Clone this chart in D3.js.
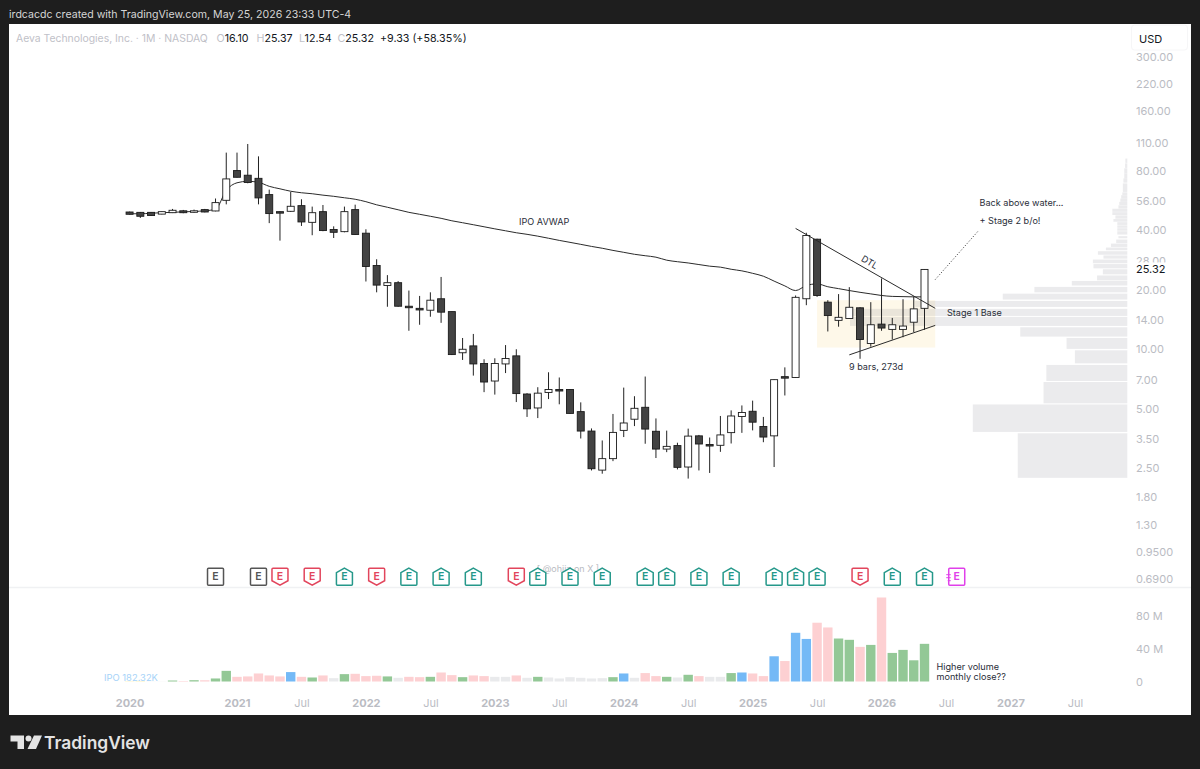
<!DOCTYPE html>
<html>
<head>
<meta charset="utf-8">
<title>AEVA monthly</title>
<script src="https://cdn.jsdelivr.net/npm/d3@7"></script>
<style>
  html, body { margin: 0; padding: 0; background: #1e1e1e; }
  svg { display: block; }
  text { font-family: Inter, "Noto Sans", sans-serif; }
  .axis path, .axis line { display: none; }
</style>
</head>
<body>
<svg id="chart" width="1200" height="769"></svg>
<script>
// Monthly bars, index 0 = Jan 2021, first bar Mar 2020, last bar May 2026
const barIdx = d3.range(-10, 65);

const open = [49.4, 49.2, 49.2, 48.2, 49.0, 50.1, 49.3, 50.8, 50.0, 56.6,
  80, 75.8, 73.1, 60.5, 49.6, 49.8, 53.2, 43.8, 49.6, 40.3, 39.3, 50.8,
  38.6, 26.5, 21.0, 21.7, 16.5, 16.1, 15.75, 18.0, 15.5, 9.6, 10.4, 8.47,
  6.91, 8.43, 9.26, 5.94, 5.05, 6.05, 6.26, 6.26, 4.84, 3.86, 2.45, 2.8,
  3.89, 4.43, 5.09, 3.85, 3.13, 3.26, 2.54, 3.65, 3.30, 3.27, 3.79, 4.57,
  4.86, 4.07, 3.65, 7.27, 7.2, 18.0, 36, 17.3, 14.0, 14.3, 16.2, 10.7,
  13.4, 12.6, 12.6, 13.7, 16.10];
const high = [49.6, 49.4, 49.4, 49.7, 51.2, 50.6, 50.8, 51.2, 57.8, 98.6,
  98.6, 109, 94.4, 64.1, 49.8, 62.4, 57.3, 52.6, 53.6, 41.8, 52.6, 53.8,
  40.4, 28.5, 23.7, 22.1, 19.8, 18.6, 19.4, 23.2, 15.5, 11.4, 11.95, 8.9,
  9.0, 10.5, 10.0, 6.0, 6.43, 7.65, 7.2, 6.28, 5.39, 3.98, 3.46, 4.71,
  6.4, 5.79, 7.28, 4.47, 3.88, 3.37, 3.97, 3.69, 3.58, 4.6, 4.91, 5.2,
  5.5, 4.55, 7.05, 8.1, 18.7, 38.8, 36.2, 17.7, 19.0, 20.6, 16.3, 17.3,
  22.8, 14.4, 17.9, 18.5, 25.37];
const low = [48.0, 46.1, 47.2, 48.1, 48.8, 48.7, 49.0, 49.2, 49.8, 54.0,
  73.8, 69, 54.0, 43.4, 35.4, 49.4, 42, 37.7, 39.5, 36.5, 39.0, 37.9,
  22.0, 19.4, 16.4, 16.4, 12.4, 13.3, 14.6, 13.6, 9.35, 8.83, 7.36, 6.07,
  5.9, 7.58, 5.41, 4.55, 4.49, 5.6, 5.27, 4.72, 3.54, 2.44, 2.35, 2.72,
  3.6, 4.09, 3.33, 2.82, 3.02, 2.47, 2.22, 2.44, 2.37, 3.03, 3.34, 3.78,
  3.89, 3.39, 2.54, 5.84, 7.17, 16.7, 18.4, 12.3, 13.0, 14.3, 8.95, 10.3,
  12.4, 11.2, 11.5, 12.2, 12.54];
const close = [48.1, 47.0, 47.4, 49.6, 50.4, 49.0, 50.1, 49.4, 55.1, 72.6,
  74, 69.6, 58.2, 48.5, 49.2, 52.8, 44.0, 49.0, 39.8, 39.0, 49.6, 38.0,
  26.2, 21.1, 21.7, 16.5, 16.4, 15.8, 17.7, 15.4, 9.4, 10.0, 8.43, 6.83,
  8.47, 8.98, 5.97, 5.0, 6.0, 6.26, 6.2, 4.74, 3.86, 2.49, 2.8, 3.8,
  4.24, 5.03, 3.95, 3.13, 3.23, 2.53, 3.64, 3.32, 3.25, 3.69, 4.6, 4.79,
  4.28, 3.6, 7.02, 7.15, 18.3, 37.6, 18.7, 14.8, 14.5, 16.3, 11.2, 13.3,
  12.8, 13.3, 13.1, 16.0, 25.32];

// IPO anchored VWAP, one value per bar
const avwap = [48.4, 48.4, 48.7, 49.0, 49.2, 49.5, 49.7, 50.1, 51.0, 63.6,
  69.4, 70.6, 69.8, 66.6, 64.7, 62.9, 61.8, 61.1, 60.1, 59.3, 58.3, 57.3,
  55.7, 53.7, 52.2, 50.7, 49.2, 48.1, 47.0, 45.9, 44.6, 43.6, 42.6, 41.6,
  40.6, 39.7, 38.8, 38.1, 37.3, 36.4, 35.5, 34.7, 33.9, 33.1, 32.4, 31.6,
  30.9, 30.2, 29.7, 29.2, 28.2, 27.7, 27.3, 26.8, 26.3, 26.0, 25.37, 24.9,
  24.2, 23.4, 22.1, 20.9, 19.8, 21.0, 21.4, 20.7, 20.25, 19.8, 19.4, 19.05,
  18.7, 18.5, 18.45, 18.4, 18.4];

// Volume in millions, and which colour class the bar falls in
const volume = [0.4, 0.5, 0.2, 0.2, 1.2, 0.6, 1.6, 1.5, 3.7, 13,
  5.7, 6.2, 9.8, 7.4, 6.2, 11.5, 5.7, 4.9, 7.4, 4.1, 9, 9.4,
  6.6, 7, 6.2, 4.5, 5.7, 5.3, 5.7, 11, 7.8, 5.3, 7.4, 6.6,
  5.7, 5.7, 7.4, 4.5, 5.7, 4.9, 3.7, 5.3, 4.5, 3.7, 4.1, 5.3,
  9.8, 4.5, 10.3, 6.6, 5.7, 4.9, 8.2, 6.6, 5.7, 5.7, 10.3, 11,
  9.8, 6.6, 30.8, 25, 59.5, 52, 71.8, 66, 52.5, 50.9, 42.3, 44.7,
  102.6, 34.9, 38.6, 25.9, 46];
const volumeClass = ['y', 'y', 'n', 'n', 'g', 'r', 'g', 'r', 'g', 'g',
  'r', 'r', 'r', 'r', 'r', 'b', 'r', 'g', 'r', 'n', 'g', 'r',
  'r', 'r', 'g', 'n', 'r', 'r', 'g', 'r', 'r', 'g', 'r', 'r',
  'n', 'n', 'r', 'n', 'g', 'n', 'n', 'n', 'n', 'n', 'n', 'g',
  'b', 'n', 'r', 'r', 'g', 'n', 'g', 'r', 'n', 'n', 'g', 'b',
  'r', 'r', 'b', 'r', 'b', 'b', 'r', 'r', 'g', 'g', 'r', 'g',
  'r', 'g', 'g', 'g', 'g'];

// Visible range volume profile: price band and share of the longest row (%)
const vpLow = [2.24, 3.82, 5.33, 6.91, 8.49, 10.04, 11.59, 13.12, 14.74, 16.36,
  17.83, 19.4, 21.0, 22.3, 23.9, 25.65, 27.2, 28.7, 30.05, 31.65, 32.9,
  34.4, 36.4, 38.0, 39.7, 41.1, 42.5, 44.1, 45.7, 47.7, 49.5, 51.5, 53.6,
  55.7, 57.9, 60.2, 62.4, 69.5, 73.2, 77.8, 82.5, 87.5];
const vpHigh = [3.76, 5.26, 6.83, 8.33, 9.88, 11.41, 12.92, 14.57, 16.0, 17.55,
  19.1, 20.65, 22.15, 23.6, 25.37, 26.95, 28.4, 29.8, 31.3, 32.65, 34.2,
  35.85, 37.3, 39.5, 40.9, 42.3, 43.9, 45.5, 47.5, 49.3, 51.3, 53.4, 55.6,
  57.8, 60.1, 62.1, 68.9, 73.1, 77.6, 82.2, 87, 92];
const vpShare = [39.5, 55.7, 30.2, 29.2, 18.9, 21.9, 38.6, 100, 100, 76.5,
  44.9, 33.5, 20, 10.9, 8.8, 12.2, 12.4, 8.6, 10.6, 7.7, 5.9,
  4, 3.2, 3.6, 3.6, 3.6, 3.6, 5, 4.3, 5.4, 5.4, 3.2, 2.9,
  2.5, 2.2, 1.8, 1.6, 1.4, 1.1, 1.1, 0.8, 0.7];

// Earnings markers
const earningsIdx = [-2, 2, 4, 7, 10, 13, 16, 19, 22, 26, 28, 31, 34, 38, 40, 43, 46, 50, 52, 54, 58, 61, 64, 67];
const earningsKind = ['none', 'none', 'miss', 'miss', 'beat', 'miss', 'beat', 'beat', 'beat', 'miss', 'beat', 'beat',
  'beat', 'beat', 'beat', 'beat', 'beat', 'beat', 'beat', 'beat', 'miss', 'beat', 'beat', 'next'];

// Axis ticks
const priceTicks = [300, 220, 160, 110, 80, 56, 40, 28, 20, 14, 10, 7, 5, 3.5, 2.5, 1.8, 1.3, 0.95, 0.69];
const volumeTicks = [0, 40, 80];
const timeTickIdx = [-10, 0, 6, 12, 18, 24, 30, 36, 42, 48, 54, 60, 66, 72, 78];
const timeTickLabels = ['2020', '2021', 'Jul', '2022', 'Jul', '2023', 'Jul', '2024', 'Jul', '2025', 'Jul', '2026', 'Jul', '2027', 'Jul'];

// Drawn lines: [bar index, price]
const dtlLine = [[52, 40.8], [65, 16.1]];
const supportLine = [[57, 9.37], [65, 13.2]];
const noteLine = [[65, 22.5], [69, 39.6]];
const baseBox = { from: 54, to: 65, low: 10.2, high: 17.7 };

const lastPrice = 25.32;

const colors = {
  bg: '#1e1e1e', axis: '#babcc3', ink: '#131722', note: '#2a2e39', body: '#434343',
  g: '#93c896', r: '#fdd0d2', b: '#74b9f6', n: '#e9eaec', y: '#fff0a8'
};
const earningsColors = { none: '#555555', miss: '#e2455c', beat: '#25988a', next: '#e040ea' };

// Scales
const x = d3.scaleLinear().domain([0, 64]).range([237, 924.5]);
const y = d3.scaleLog().domain([0.69, 300]).range([579, 57]);
const yVol = d3.scaleLinear().domain([0, 80]).range([681.5, 616]);
const xVp = d3.scaleLinear().domain([0, 100]).range([1127.3, 850]);

const svg = d3.select('#chart');

// Panel
svg.append('rect').attr('x', 9).attr('y', 24).attr('width', 1182).attr('height', 691).attr('fill', '#ffffff');
svg.append('line').attr('x1', 9).attr('x2', 1191).attr('y1', 587.5).attr('y2', 587.5)
  .attr('stroke', '#f0f1f3').attr('stroke-width', 1.5);

svg.append('text').attr('x', 9).attr('y', 18).attr('fill', '#d6d6d6')
  .attr('font-size', 10.6).text('irdcacdc created with TradingView.com, May 25, 2026 23:33 UTC-4');

// Legend line
const legend = svg.append('text').attr('y', 41.5).attr('font-size', 10.7);
legend.append('tspan').attr('x', 16).attr('fill', '#bfc1c8').attr('font-size', 10.4).text('Aeva Technologies, Inc. · 1M · NASDAQ');
[['O', '16.10', 216.5], ['H', '25.37', 256.5], ['L', '12.54', 299], ['C', '25.32', 337.5]].forEach(d => {
  legend.append('tspan').attr('x', d[2]).attr('fill', '#bfc1c8').text(d[0]);
  legend.append('tspan').attr('fill', colors.ink).text(d[1]);
});
legend.append('tspan').attr('x', 380).attr('fill', colors.ink).text('+9.33 (+58.35%)');

// Base box and volume profile
svg.append('rect')
  .attr('x', x(baseBox.from)).attr('width', x(baseBox.to) - x(baseBox.from))
  .attr('y', y(baseBox.high)).attr('height', y(baseBox.low) - y(baseBox.high))
  .attr('fill', '#fef8e9');

svg.append('g').selectAll('rect')
  .data(vpShare)
  .enter().append('rect')
  .attr('x', d => xVp(d))
  .attr('width', d => xVp(0) - xVp(d))
  .attr('y', (d, i) => y(vpHigh[i]))
  .attr('height', (d, i) => y(vpLow[i]) - y(vpHigh[i]))
  .attr('fill', '#787b86')
  .attr('opacity', 0.15);

// AVWAP
svg.append('path')
  .attr('d', d3.line().x((d, i) => x(barIdx[i])).y(d => y(d)).curve(d3.curveMonotoneX)(avwap))
  .attr('fill', 'none').attr('stroke', '#2b2b2b').attr('stroke-width', 1);

// Candles
const candles = svg.append('g').selectAll('g')
  .data(barIdx)
  .enter().append('g');

candles.append('line')
  .attr('x1', d => x(d)).attr('x2', d => x(d))
  .attr('y1', (d, i) => y(high[i])).attr('y2', (d, i) => y(low[i]))
  .attr('stroke', '#222222').attr('stroke-width', 1);

candles.append('rect')
  .attr('x', d => x(d) - 3.5).attr('width', 7)
  .attr('y', (d, i) => y(Math.max(open[i], close[i])))
  .attr('height', (d, i) => Math.max(1.5, Math.abs(y(open[i]) - y(close[i]))))
  .attr('fill', (d, i) => close[i] >= open[i] ? '#ffffff' : colors.body)
  .attr('stroke', '#1a1a1a').attr('stroke-width', 0.9);

// Trend lines
const priceLine = d3.line().x(d => x(d[0])).y(d => y(d[1]));
svg.append('path').attr('d', priceLine(dtlLine)).attr('stroke', '#2b2b2b').attr('fill', 'none');
svg.append('path').attr('d', priceLine(supportLine)).attr('stroke', '#2b2b2b').attr('fill', 'none');
svg.append('path').attr('d', priceLine(noteLine)).attr('stroke', '#2b2b2b').attr('fill', 'none')
  .attr('stroke-dasharray', '1 2');

// Notes
const notes = [
  ['IPO AVWAP', 519, 224.5],
  ['9 bars, 273d', 849, 370],
  ['Stage 1 Base', 947, 316],
  ['Back above water...', 979.5, 206],
  ['+ Stage 2 b/o!', 979.5, 223.5],
  ['Higher volume', 936.5, 670],
  ['monthly close??', 936.5, 679.5]
];
svg.append('g').selectAll('text')
  .data(notes)
  .enter().append('text')
  .attr('x', d => d[1]).attr('y', d => d[2])
  .attr('font-size', 9.1).attr('fill', colors.note)
  .text(d => d[0]);

svg.append('text').attr('font-size', 9.2).attr('fill', colors.note)
  .attr('text-anchor', 'middle')
  .attr('transform', 'translate(868,265) rotate(31)').text('DTL');

svg.append('text').attr('x', 568).attr('y', 571.5).attr('text-anchor', 'middle')
  .attr('font-size', 9).attr('fill', '#b9bbc2').text('[ @ohiiz on X ]');

// Volume bars
svg.append('g').selectAll('rect')
  .data(volume)
  .enter().append('rect')
  .attr('x', (d, i) => x(barIdx[i]) - 4.7)
  .attr('width', 9.4)
  .attr('y', d => yVol(d))
  .attr('height', d => yVol(0) - yVol(d))
  .attr('fill', (d, i) => colors[volumeClass[i]]);

svg.append('text').attr('x', 104).attr('y', 680.5).attr('font-size', 9.4)
  .attr('fill', '#a6d3f8').text('IPO 182.32K');

// Earnings flags
const flagShape = {
  none: 'M-8,-7.5a1,1 0 0 1 1,-1H7a1,1 0 0 1 1,1V7.5a1,1 0 0 1 -1,1H-7a1,1 0 0 1 -1,-1Z',
  miss: 'M-8,-7.5a1,1 0 0 1 1,-1H7a1,1 0 0 1 1,1V4L0,8.5L-8,4Z',
  beat: 'M0,-8.5L8,-4V7.5a1,1 0 0 1 -1,1H-7a1,1 0 0 1 -1,-1V-4Z',
  next: 'M-8,-7.5a1,1 0 0 1 1,-1H7a1,1 0 0 1 1,1V7.5a1,1 0 0 1 -1,1H-7a1,1 0 0 1 -1,-1Z'
};
const flags = svg.append('g').selectAll('g')
  .data(earningsIdx)
  .enter().append('g')
  .attr('transform', d => `translate(${x(d)},576.7)`);

flags.append('path')
  .attr('d', (d, i) => flagShape[earningsKind[i]])
  .attr('fill', '#ffffff')
  .attr('stroke', (d, i) => earningsColors[earningsKind[i]])
  .attr('stroke-width', 1.5);

flags.append('text')
  .attr('text-anchor', 'middle').attr('y', 3.7).attr('font-size', 10.5).attr('font-weight', 600)
  .attr('fill', (d, i) => earningsColors[earningsKind[i]])
  .text('E');

// the upcoming report gets the little speed lines on its left edge
flags.filter((d, i) => earningsKind[i] === 'next').append('path')
  .attr('d', 'M-10.5,-2H-6M-10.5,1H-6M-9,4H-6')
  .attr('stroke', earningsColors.next).attr('stroke-width', 1).attr('fill', 'none');

// Right price axis
const priceFormat = d => d < 1 ? d.toFixed(4) : d.toFixed(2);
const yAxis = svg.append('g').attr('class', 'axis')
  .attr('transform', 'translate(1136,0)')
  .call(d3.axisRight(y).tickValues(priceTicks).tickFormat(priceFormat).tickSize(0).tickPadding(0));
yAxis.selectAll('text').attr('font-size', 11).attr('fill', colors.axis)
  .style('font-family', 'Inter, "Noto Sans", sans-serif');

// Volume axis
const volAxis = svg.append('g').attr('class', 'axis')
  .attr('transform', 'translate(1136,0)')
  .call(d3.axisRight(yVol).tickValues(volumeTicks).tickFormat(d => d === 0 ? '0' : d + ' M').tickSize(0).tickPadding(0));
volAxis.selectAll('text').attr('font-size', 11).attr('fill', colors.axis)
  .style('font-family', 'Inter, "Noto Sans", sans-serif');

// Bottom time axis
const timeAxis = svg.append('g').attr('class', 'axis')
  .attr('transform', 'translate(0,693)')
  .call(d3.axisBottom(x).tickValues(timeTickIdx).tickFormat((d, i) => timeTickLabels[i]).tickSize(0).tickPadding(6));
timeAxis.selectAll('text').attr('font-size', 11).attr('fill', colors.axis)
  .style('font-family', 'Inter, "Noto Sans", sans-serif')
  .attr('font-weight', (d, i) => timeTickLabels[i] === 'Jul' ? 400 : 700);

// Last price label sits over the 28.00 tick, USD box over the 300.00 tick
svg.append('rect').attr('x', 1132).attr('y', y(lastPrice) - 7).attr('width', 50).attr('height', 14).attr('fill', '#ffffff');
svg.append('text').attr('x', 1136).attr('y', y(lastPrice)).attr('dy', '0.32em')
  .attr('font-size', 11).attr('fill', colors.ink).text(lastPrice.toFixed(2));

svg.append('rect').attr('x', 1131).attr('y', 25).attr('width', 58).attr('height', 28).attr('fill', '#ffffff');
svg.append('rect').attr('x', 1131.5).attr('y', 25).attr('width', 56).attr('height', 25).attr('rx', 3)
  .attr('fill', '#ffffff').attr('stroke', '#f6f6f7');
svg.append('text').attr('x', 1139).attr('y', 42.5).attr('font-size', 11).attr('fill', colors.ink).text('USD');

// TradingView logo
const logo = svg.append('g').attr('fill', '#e4e4e4');
logo.append('path').attr('d', 'M10.5,735.5H24V749H17.5V741.5H10.5Z');
logo.append('circle').attr('cx', 28.5).attr('cy', 738.5).attr('r', 3);
logo.append('path').attr('d', 'M34,735.5H42L36,749H27.5Z');
svg.append('text').attr('x', 44).attr('y', 749).attr('font-size', 17.4).attr('font-weight', 600)
  .attr('fill', '#e4e4e4').text('TradingView');
</script>
</body>
</html>
